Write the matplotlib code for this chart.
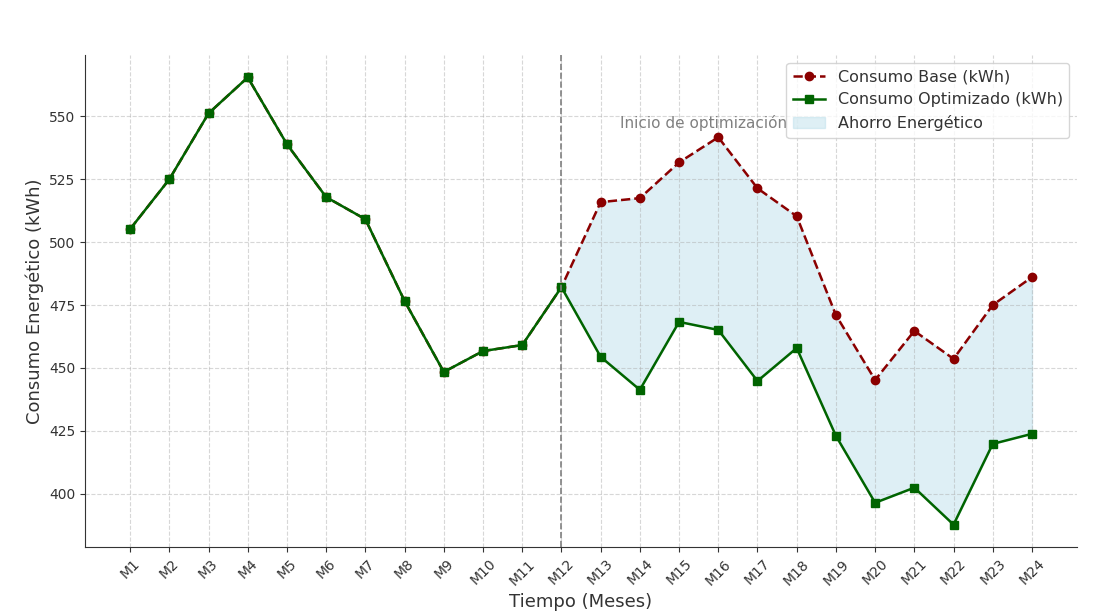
import matplotlib
matplotlib.use("Agg")
import matplotlib.pyplot as plt
import numpy as np

months = [f"M{i}" for i in range(1, 25)]
base = [505.2, 525.0, 551.2, 565.5, 538.9, 517.9, 509.1, 476.6, 448.4, 456.7, 459.1, 482.1,
        515.9, 517.5, 531.7, 541.7, 521.4, 510.3, 471.0, 445.2, 464.7, 453.6, 475.0, 486.1]
optimized = [505.2, 525.0, 551.2, 565.5, 538.9, 517.9, 509.1, 476.6, 448.4, 456.7, 459.1, 482.1,
             454.4, 441.3, 468.3, 465.1, 444.8, 457.9, 423.0, 396.4, 402.4, 387.7, 419.8, 423.8]
start_idx = 11  # M12

plt.rcParams["text.color"] = "#333333"
plt.rcParams["axes.labelcolor"] = "#333333"
plt.rcParams["xtick.color"] = "#333333"
plt.rcParams["ytick.color"] = "#333333"
plt.rcParams["axes.edgecolor"] = "#333333"

fig = plt.figure(figsize=(11.13, 6.14), dpi=100)
ax = fig.add_axes([0.0764, 0.1091, 0.8913, 0.8013])

x = np.arange(len(months))
ax.plot(x, base, color="darkred", linestyle="--", marker="o", markersize=6,
        linewidth=1.8, label="Consumo Base (kWh)")
ax.plot(x, optimized, color="darkgreen", linestyle="-", marker="s", markersize=6,
        linewidth=1.8, label="Consumo Optimizado (kWh)")
ax.fill_between(x, base, optimized, where=x >= start_idx, color="lightblue",
                alpha=0.4, label="Ahorro Energético")
ax.axvline(start_idx, color="gray", linestyle="--", linewidth=1.2)
ax.text(start_idx + 1.5, 545.5, "Inicio de optimización", color="gray", fontsize=11)

ax.set_xticks(x)
ax.set_xticklabels(months, rotation=45, fontsize=10)
ax.tick_params(axis="y", labelsize=10)
ax.set_xlabel("Tiempo (Meses)", fontsize=13)
ax.set_ylabel("Consumo Energético (kWh)", fontsize=13)
ax.grid(True, linestyle="--", alpha=0.5)
ax.spines["top"].set_visible(False)
ax.spines["right"].set_visible(False)
ax.legend(loc="upper right", fontsize=11.5)

fig.savefig("out.png", dpi=100)
